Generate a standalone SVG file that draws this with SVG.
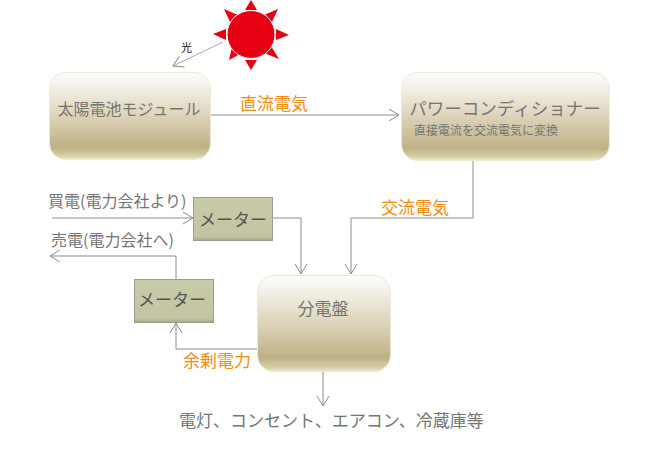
<svg xmlns="http://www.w3.org/2000/svg" width="650" height="450" viewBox="0 0 650 450">
<style>
text{font-family:"Noto Sans CJK JP","Noto Sans",sans-serif;fill:#757575}
.c{fill:none;stroke:#8c8c8c;stroke-width:1}
.box{stroke:#efe9d8;stroke-width:1;fill:url(#g)}
.met{fill:url(#m);stroke:#9b9b8f;stroke-width:1}
.o{fill:#f28c0f;font-size:17px}
.l{font-size:16px}
</style>
<defs>
<linearGradient id="g" x1="0" y1="0" x2="0" y2="1">
<stop offset="0" stop-color="#fdfdfc"/><stop offset=".12" stop-color="#f6f4ee"/><stop offset=".5" stop-color="#dcd3b8"/><stop offset=".86" stop-color="#bfb185"/><stop offset=".95" stop-color="#d5cda2"/><stop offset="1" stop-color="#ece7cc"/>
</linearGradient>
<linearGradient id="m" x1="0" y1="0" x2="0" y2="1">
<stop offset="0" stop-color="#c8caa8"/><stop offset=".9" stop-color="#c2c4a2"/><stop offset="1" stop-color="#a7a98a"/>
</linearGradient>
<marker id="a" markerWidth="14" markerHeight="14" refX="11" refY="6" orient="auto" markerUnits="userSpaceOnUse" viewBox="0 0 14 12">
<path d="M1 0L11 6L1 12" fill="none" stroke="#8c8c8c" stroke-width="1"/>
</marker>
</defs>
<g id="sun">
<g fill="#e60012">
<path d="M245 10L251 0L257 10Z"/><path d="M245 60L251 70L257 60Z"/>
<path d="M226 29L213 34L226 40Z"/><path d="M276 29L289 35L276 40Z"/>
<path d="M224 9L238 15L230 22Z"/><path d="M278 9L264 15L272 22Z"/>
<path d="M229 60L232 47L240 54Z"/><path d="M279 59L264 53L271 46Z"/>
</g>
<circle cx="251" cy="34.500" r="24" fill="#e60012" stroke="#fff" stroke-width="1"/>
</g>
<g id="connectors">
<path class="c" style="stroke:#aaa" d="M223 42L173 66" marker-end="url(#a)"/>
<path class="c" d="M211 115H399" marker-end="url(#a)"/>
<path class="c" d="M473 161V218H351V274" marker-end="url(#a)"/>
<path class="c" d="M52 218H193" marker-end="url(#a)"/>
<path class="c" d="M273 218H301V274" marker-end="url(#a)"/>
<path class="c" d="M176 279V256H50" marker-end="url(#a)"/>
<path class="c" d="M258 349H176V323" marker-end="url(#a)"/>
<path class="c" d="M323 372V406" marker-end="url(#a)"/>
</g>
<g id="module">
<rect class="box" x="49.500" y="72.500" width="161" height="87" rx="16"/>
<text x="129" y="115" font-size="16" text-anchor="middle">太陽電池モジュール</text>
</g>
<g id="pcs">
<rect class="box" x="401.500" y="72.500" width="208" height="88" rx="16"/>
<text x="505" y="115" font-size="17.500" text-anchor="middle">パワーコンディショナー</text>
<text x="414" y="135" font-size="12">直接電流を交流電気に変換</text>
</g>
<g id="meter1">
<rect class="met" x="193.500" y="197.500" width="79" height="43"/>
<text x="233" y="226" font-size="17" text-anchor="middle" style="fill:#555">メーター</text>
</g>
<g id="meter2">
<rect class="met" x="134.500" y="279.500" width="79" height="43"/>
<text x="172" y="306" font-size="17" text-anchor="middle" style="fill:#555">メーター</text>
</g>
<g id="panel">
<rect class="box" x="257.500" y="275.500" width="133" height="96" rx="16"/>
<text x="323" y="315" font-size="17" text-anchor="middle">分電盤</text>
</g>
<g id="labels">
<text x="181" y="52" font-size="11" style="fill:#111">光</text>
<text class="o" x="240" y="110">直流電気</text>
<text class="o" x="381" y="214">交流電気</text>
<text class="o" x="183" y="367">余剰電力</text>
<text class="l" x="48" y="207">買電(電力会社より)</text>
<text class="l" x="51" y="246">売電(電力会社へ)</text>
<text x="179" y="427" font-size="17">電灯、コンセント、エアコン、冷蔵庫等</text>
</g>
</svg>
